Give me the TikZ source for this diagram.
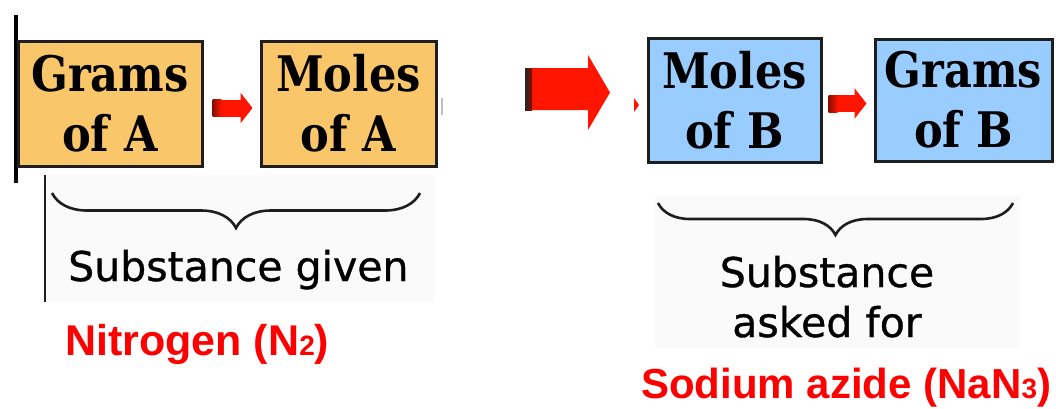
\documentclass[tikz,border=0pt]{standalone}
\usepackage{fontspec}
\newfontfamily\handfont{DejaVu Sans}[FakeBold=0.8]
\newfontfamily\labelfont{Liberation Sans}
\newfontfamily\boxfont{DejaVu Serif}[FakeStretch=0.88]
\usetikzlibrary{arrows.meta,decorations.pathreplacing,calc}

\definecolor{boxorange}{HTML}{F9C66A}
\definecolor{boxblue}{HTML}{99CCFF}
\definecolor{frame}{HTML}{1E1E1E}
\definecolor{arrowred}{HTML}{FF1500}
\definecolor{arrowdark}{HTML}{8A0E00}
\definecolor{panel}{HTML}{FAFAFA}
\definecolor{labelred}{HTML}{FF0000}

\tikzset{
  stepbox/.style={draw=frame, line width=3pt, inner sep=0pt, align=center,
    minimum height=125pt, font=\fontsize{49}{60}\selectfont\boxfont\bfseries},
  givenbox/.style={stepbox, fill=boxorange},
  askedbox/.style={stepbox, fill=boxblue},
  smallarrow/.style={draw=arrowred, line width=17pt,
    -{Triangle[length=12pt,width=30pt]}},
  groupbrace/.style={draw=frame, line width=2.6pt,
    decorate, decoration={brace, mirror, amplitude=#1}},
  handtext/.style={font=\fontsize{41}{50}\selectfont\handfont, inner sep=0pt, text=black},
  chemlabel/.style={font=\fontsize{#1}{50}\selectfont\labelfont\bfseries, text=labelred, inner sep=0pt},
}

\begin{document}
\begin{tikzpicture}[x=1pt, y=-1pt]
  \useasboundingbox (0,0) rectangle (1056,408);
  \fill[white] (0,0) rectangle (1056,408);

  % soft panels behind the captions
  \fill[panel] (45,175) rectangle (435,302);
  \fill[panel] (655,195) rectangle (1020,348);

  % edge rules
  \draw[black, line width=4pt] (15.5,15) -- (15.5,183);
  \draw[frame, line width=2pt] (45,175) -- (45,302);
  \draw[black!25, line width=2pt] (442,98) -- (442,115);

  % conversion boxes
  \node[givenbox, minimum width=184pt] (gA) at (110,103.5) {Grams\\of A};
  \node[givenbox, minimum width=175pt] (mA) at (348.5,103.5) {Moles\\of A};
  \node[askedbox, minimum width=173pt, minimum height=124pt] (mB) at (734.5,100) {Moles\\of B};
  \node[askedbox, minimum width=177pt, minimum height=122pt] (gB) at (963.5,100) {Grams\\of B};

  % step arrows between boxes
  \coordinate (aA0) at ($(gA.east)+(9,4.5)$);
  \coordinate (aA1) at ($(mA.west)+(-7,4.5)$);
  \draw[smallarrow] (aA0) -- (aA1);
  \fill[left color=arrowdark, right color=arrowred] ($(aA0)+(0,-8.5)$) rectangle ++(9,17);

  \coordinate (aB0) at ($(mB.east)+(6,3.5)$);
  \coordinate (aB1) at ($(gB.west)+(-7,3.5)$);
  \draw[smallarrow] (aB0) -- (aB1);
  \fill[left color=arrowdark, right color=arrowred] ($(aB0)+(0,-8.5)$) rectangle ++(9,17);

  % large arrow linking the two substances
  \fill[arrowred] (525,68) -- (588,68) -- (588,55) -- (610,92.5) -- (588,130)
    -- (588,110) -- (525,110) -- cycle;
  \fill[left color=black!85, right color=arrowdark] (525,68) rectangle (532,110);
  \fill[arrowred] (634,98) -- (639,105) -- (634,112) -- cycle;

  % braces and captions
  \draw[groupbrace=35pt] (52,193) -- (420,193);
  \draw[groupbrace=32pt] (658,203) -- (1013,203);

  \node[handtext, anchor=base west] (given) at (68,281) {Substance given};
  \node[handtext, anchor=base, align=center] (asked) at (827,337) {Substance\\asked for};

  % substance names
  \node[chemlabel=43, anchor=base west] (nitro) at (65,355)
    {Nitrogen (N{\fontsize{28}{30}\selectfont 2})};
  \node[chemlabel=42, anchor=base west] (azide) at (641,398)
    {Sodium azide (NaN{\fontsize{28}{30}\selectfont 3})};
\end{tikzpicture}
\end{document}
